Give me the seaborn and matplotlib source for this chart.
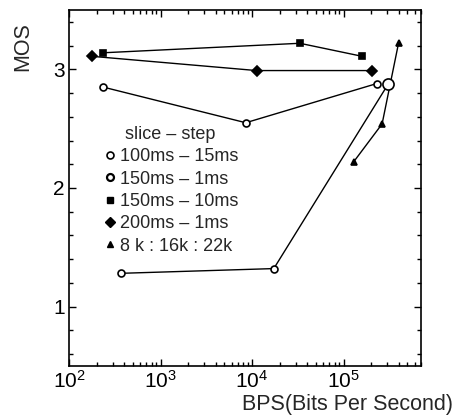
import matplotlib
matplotlib.use("Agg")
import matplotlib.pyplot as plt
import seaborn as sns
import pandas as pd
import numpy as np
from matplotlib.lines import Line2D
from matplotlib.ticker import LogLocator, MultipleLocator

sns.set_style("ticks")
plt.rcParams['font.family'] = ['Liberation Sans', 'DejaVu Sans']

labels = ["100ms – 15ms", "150ms – 1ms", "150ms – 10ms", "200ms – 1ms", "8 k : 16k : 22k"]
x_100_15 = [238, 8550, 230000]
y_100_15 = [2.85, 2.55, 2.88]
x_150_1 = [367, 17300, 310000]
y_150_1 = [1.28, 1.32, 2.88]
x_150_10 = [238, 33300, 160000]
y_150_10 = [3.14, 3.22, 3.11]
x_200_1 = [178, 11200, 205000]
y_200_1 = [3.11, 2.99, 2.99]
x_khz = [129000, 264000, 399000]
y_khz = [2.22, 2.54, 3.22]

series = [
    (x_100_15, y_100_15, 'o', 'white', 5),
    (x_150_1, y_150_1, 'o', 'white', 5),
    (x_150_10, y_150_10, 's', 'black', 5),
    (x_200_1, y_200_1, 'D', 'black', 5),
    (x_khz, y_khz, '^', 'black', 4.5),
]

fig = plt.figure(figsize=(4.54, 4.2), dpi=100)
ax = fig.add_axes([0.152, 0.129, 0.775, 0.847])

for (xs, ys, m, fc, ms), lab in zip(series, labels):
    df = pd.DataFrame({"x": xs, "y": ys})
    sns.lineplot(data=df, x="x", y="y", ax=ax, sort=False, color='black', lw=1,
                 marker=m, markersize=ms, markerfacecolor=fc, markeredgecolor='black',
                 markeredgewidth=1.2, legend=False)

# larger open circle at the end of the 150ms-1ms series
ax.plot([x_150_1[-1]], [y_150_1[-1]], 'o', ms=8, mfc='white', mec='black', mew=1.2, zorder=5)

ax.set_xscale('log')
ax.set_xlim(100, 7e5)
ax.set_ylim(0.5, 3.5)
ax.yaxis.set_major_locator(MultipleLocator(1))
ax.yaxis.set_minor_locator(MultipleLocator(0.2))
ax.xaxis.set_major_locator(LogLocator(base=10, numticks=10))
ax.xaxis.set_minor_locator(LogLocator(base=10, subs=np.arange(2, 10), numticks=10))
ax.tick_params(which='both', direction='in', top=True, right=True, labelsize=15, width=1,
               colors='black', pad=3)
ax.tick_params(which='major', length=5)
ax.tick_params(which='minor', length=3)
for s in ax.spines.values():
    s.set_linewidth(1.2)
    s.set_color('black')

ax.set_xlabel("")
ax.set_ylabel("")
fig.text(0.997, 0.036, "BPS(Bits Per Second)", ha='right', va='center', fontsize=15.5)
fig.text(0.05, 0.888, "MOS", rotation=90, ha='center', va='center', fontsize=15.5)

handles = [
    Line2D([], [], ls='none', marker='o', ms=5, mfc='white', mec='black', mew=1.2),
    Line2D([], [], ls='none', marker='o', ms=5, mfc='white', mec='black', mew=1.6),
    Line2D([], [], ls='none', marker='s', ms=5, mfc='black', mec='black'),
    Line2D([], [], ls='none', marker='D', ms=5.5, mfc='black', mec='black'),
    Line2D([], [], ls='none', marker='^', ms=4.5, mfc='black', mec='black'),
]
leg = ax.legend(handles, labels, title="slice – step", frameon=False, fontsize=13,
                title_fontsize=13, loc='upper left', bbox_to_anchor=(0.095, 0.675),
                handletextpad=0.2, handlelength=0.8, labelspacing=0.3, borderaxespad=0,
                borderpad=0)

fig.savefig("out.png", dpi=100)
